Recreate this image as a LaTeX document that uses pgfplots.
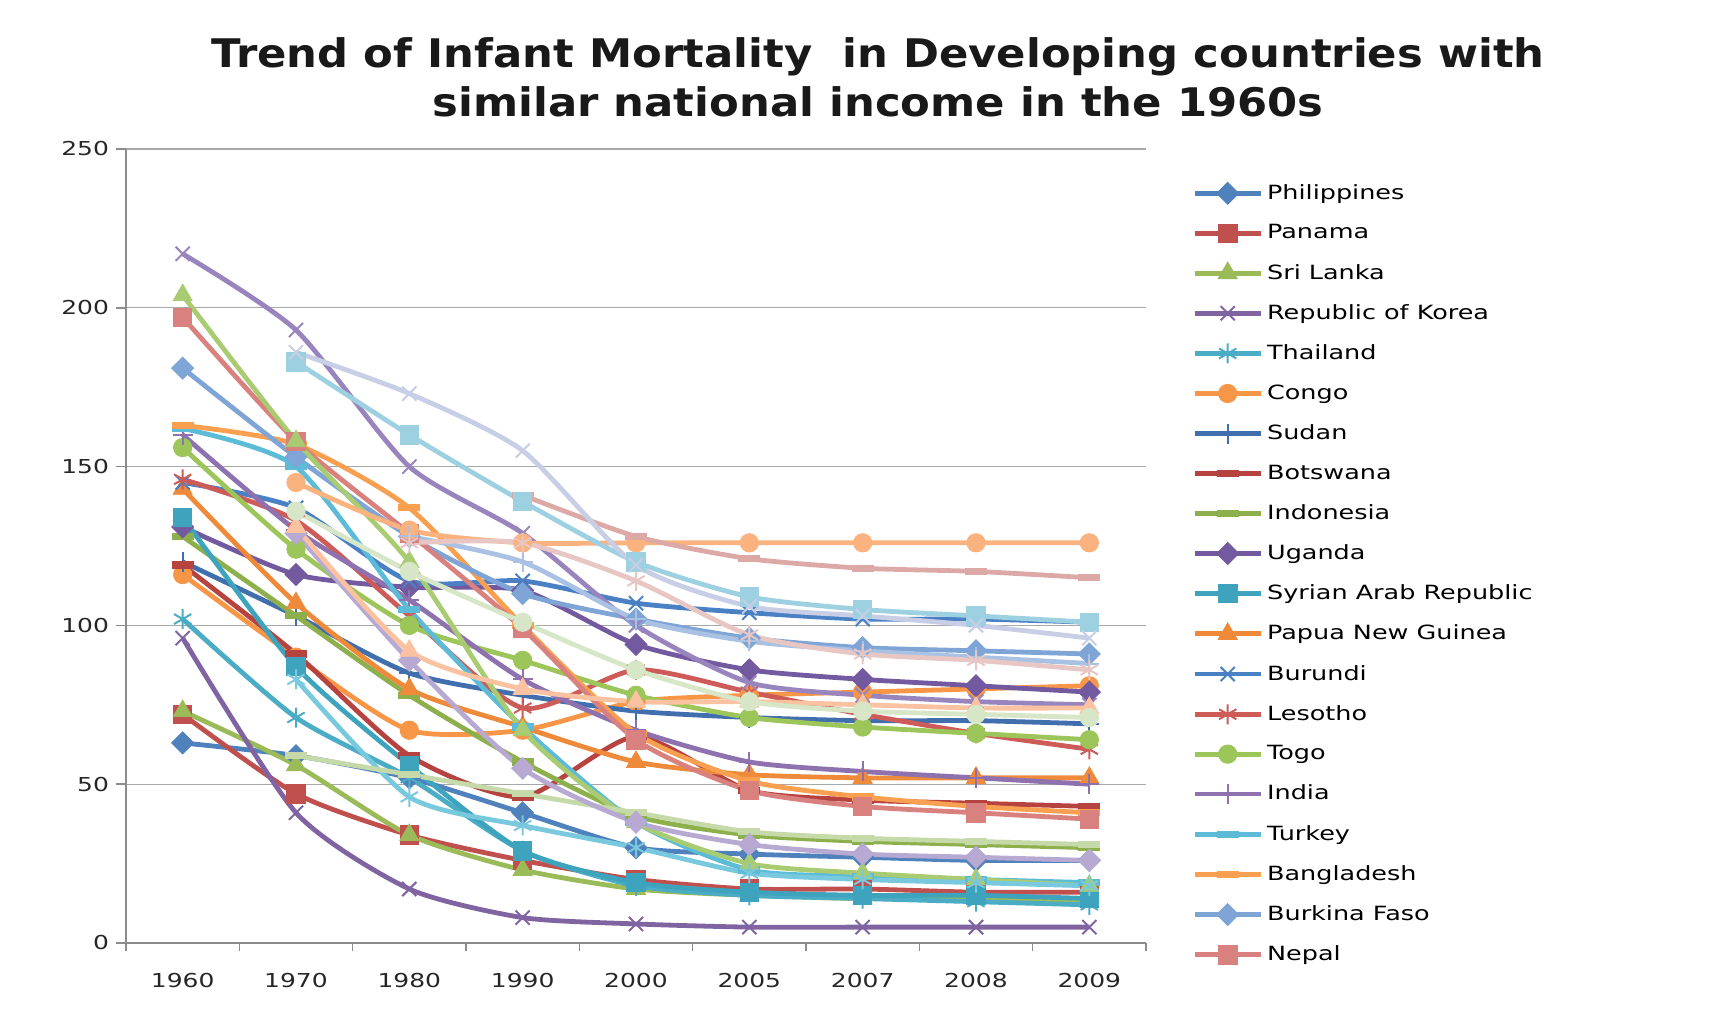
\documentclass[border=0pt]{standalone}
\usepackage{pgfplots}
\pgfplotsset{compat=1.18}
\usepackage{fontspec}
\setmainfont{DejaVu Sans}[FakeStretch=1.3]
\newfontfamily\titlefont{DejaVu Sans}[FakeStretch=1.1]
\definecolor{axisgray}{HTML}{8C8C8C}
\definecolor{gridgray}{HTML}{A8A8A8}
\definecolor{c1}{HTML}{4F81BD}\definecolor{c2}{HTML}{C0504D}\definecolor{c3}{HTML}{9BBB59}
\definecolor{c4}{HTML}{8064A2}\definecolor{c5}{HTML}{4BACC6}\definecolor{c6}{HTML}{F79646}
\definecolor{c7}{HTML}{416FAE}\definecolor{c8}{HTML}{B6433F}\definecolor{c9}{HTML}{8DB04D}
\definecolor{c10}{HTML}{7359A0}\definecolor{c11}{HTML}{3EA3BD}\definecolor{c12}{HTML}{EE8A3A}
\definecolor{c13}{HTML}{4A80C4}\definecolor{c14}{HTML}{CD5C58}\definecolor{c15}{HTML}{9CC55A}
\definecolor{c16}{HTML}{8E72B0}\definecolor{c17}{HTML}{5CBCD8}\definecolor{c18}{HTML}{F9A050}
\definecolor{c19}{HTML}{7EA5D6}\definecolor{c20}{HTML}{D8817F}\definecolor{c21}{HTML}{A9CC72}
\definecolor{c22}{HTML}{9985BE}\definecolor{c23}{HTML}{78C8DE}\definecolor{c24}{HTML}{FAB27E}
\definecolor{c25}{HTML}{A9C2E3}\definecolor{c26}{HTML}{DCA9A7}\definecolor{c27}{HTML}{C5DAA8}
\definecolor{c28}{HTML}{B7A9D2}\definecolor{c29}{HTML}{9DD1E2}\definecolor{c30}{HTML}{FBC2A1}
\definecolor{c31}{HTML}{C8CEE5}\definecolor{c32}{HTML}{E8C6C4}\definecolor{c33}{HTML}{D6E6C6}
\pgfplotsset{
 sD/.style={mark=square*, mark size=3.9pt, mark options={rotate=45, line width=0.4pt}},
 sS/.style={mark=square*, mark size=4.6pt, mark options={line width=0.4pt}},
 sT/.style={mark=triangle*, mark size=5.5pt, mark options={line width=0.4pt}},
 sX/.style={mark=x, mark size=5pt, mark options={line width=1pt}},
 sA/.style={mark=asterisk, mark size=5pt, mark options={line width=1pt}},
 sC/.style={mark=*, mark size=4.6pt, mark options={line width=0.4pt}},
 sP/.style={mark=+, mark size=5pt, mark options={line width=1pt}},
 sN/.style={mark=-, mark size=5.5pt, mark options={line width=3.6pt}},
}
\begin{document}
\begin{tikzpicture}
\useasboundingbox (-63pt,-32.5pt) rectangle (804.5pt,471.5pt);
\begin{axis}[
  scale only axis, width=510pt, height=397pt,
  xmin=-0.5, xmax=8.5, ymin=0, ymax=250,
  axis x line*=bottom, axis y line*=left,
  axis line style={draw=axisgray, line width=0.8pt, -},
  xtick={0,...,8},
  xticklabels={1960,1970,1980,1990,2000,2005,2007,2008,2009},
  minor xtick={-0.5,0.5,...,8.5},
  ytick={0,50,...,250},
  tick align=outside,
  major tick length=5pt, minor tick length=4pt,
  major x tick style={draw=none},
  minor x tick style={draw=axisgray, line width=0.8pt},
  major y tick style={draw=axisgray, line width=0.8pt},
  ymajorgrids, major grid style={draw=gridgray, line width=0.7pt},
  /pgf/number format/assume math mode=true,
  ticklabel style={font=\fontsize{9.6}{11}\selectfont, text=black!85},
  xticklabel style={yshift=-6.5pt},
  clip=false,
  every axis plot/.append style={line width=2.4pt, smooth, tension=0.4},
  legend style={at={(1.045,0.961)}, anchor=north west, draw=none, fill=none,
     font=\fontsize{9.8}{11}\selectfont, row sep=7.15pt, inner sep=0pt},
  legend cell align=left,
  legend image code/.code={\draw[mark repeat=2,mark phase=2] plot coordinates {(0cm,0cm)(0.58cm,0cm)(1.16cm,0cm)};},
]
\addplot[c1,sD] coordinates {(0,63)(1,59)(2,52)(3,41)(4,30)(5,28)(6,27)(7,26)(8,26)};
\addlegendentry{Philippines}
\addplot[c2,sS] coordinates {(0,72)(1,47)(2,34)(3,26)(4,20)(5,17)(6,17)(7,16)(8,16)};
\addlegendentry{Panama}
\addplot[c3,sT] coordinates {(0,73)(1,56)(2,34)(3,23)(4,17)(5,15)(6,14)(7,14)(8,13)};
\addlegendentry{Sri Lanka}
\addplot[c4,sX] coordinates {(0,96)(1,41)(2,17)(3,8)(4,6)(5,5)(6,5)(7,5)(8,5)};
\addlegendentry{Republic of Korea}
\addplot[c5,sA] coordinates {(0,102)(1,71)(2,52)(3,29)(4,18)(5,15)(6,14)(7,13)(8,12)};
\addlegendentry{Thailand}
\addplot[c6,sC] coordinates {(0,116)(1,90)(2,67)(3,67)(4,76)(5,78)(6,79)(7,80)(8,81)};
\addlegendentry{Congo}
\addplot[c7,sP] coordinates {(0,120)(1,103)(2,85)(3,78)(4,73)(5,71)(6,70)(7,70)(8,69)};
\addlegendentry{Sudan}
\addplot[c8,sN] coordinates {(0,119)(1,91)(2,59)(3,46)(4,65)(5,48)(6,45)(7,44)(8,43)};
\addlegendentry{Botswana}
\addplot[c9,sN] coordinates {(0,128)(1,103)(2,78)(3,57)(4,40)(5,34)(6,32)(7,31)(8,30)};
\addlegendentry{Indonesia}
\addplot[c10,sD] coordinates {(0,131)(1,116)(2,112)(3,111)(4,94)(5,86)(6,83)(7,81)(8,79)};
\addlegendentry{Uganda}
\addplot[c11,sS] coordinates {(0,134)(1,87)(2,56)(3,29)(4,19)(5,16)(6,15)(7,15)(8,14)};
\addlegendentry{Syrian Arab Republic}
\addplot[c12,sT] coordinates {(0,143)(1,107)(2,80)(3,68)(4,57)(5,53)(6,52)(7,52)(8,52)};
\addlegendentry{Papua New Guinea}
\addplot[c13,sX] coordinates {(0,145)(1,137)(2,114)(3,114)(4,107)(5,104)(6,102)(7,102)(8,101)};
\addlegendentry{Burundi}
\addplot[c14,sA] coordinates {(0,146)(1,133)(2,103)(3,74)(4,86)(5,79)(6,72)(7,66)(8,61)};
\addlegendentry{Lesotho}
\addplot[c15,sC] coordinates {(0,156)(1,124)(2,100)(3,89)(4,78)(5,71)(6,68)(7,66)(8,64)};
\addlegendentry{Togo}
\addplot[c16,sP] coordinates {(0,160)(1,130)(2,108)(3,83)(4,67)(5,57)(6,54)(7,52)(8,50)};
\addlegendentry{India}
\addplot[c17,sN] coordinates {(0,162)(1,150)(2,105)(3,68)(4,38)(5,23)(6,21)(7,20)(8,19)};
\addlegendentry{Turkey}
\addplot[c18,sN] coordinates {(0,163)(1,157)(2,137)(3,100)(4,66)(5,51)(6,46)(7,43)(8,41)};
\addlegendentry{Bangladesh}
\addplot[c19,sD] coordinates {(0,181)(1,153)(2,128)(3,110)(4,102)(5,96)(6,93)(7,92)(8,91)};
\addlegendentry{Burkina Faso}
\addplot[c20,sS] coordinates {(0,197)(1,158)(2,129)(3,99)(4,64)(5,48)(6,43)(7,41)(8,39)};
\addlegendentry{Nepal}
\addplot[c21,sT,forget plot] coordinates {(0,204)(1,158)(2,120)(3,67)(4,38)(5,25)(6,22)(7,20)(8,18)};
\addplot[c22,sX,forget plot] coordinates {(0,217)(1,193)(2,150)(3,129)(4,100)(5,82)(6,78)(7,76)(8,75)};
\addplot[c23,sA,forget plot] coordinates {(1,83)(2,46)(3,37)(4,30)(5,22)(6,20)(7,19)(8,18)};
\addplot[c24,sC,forget plot] coordinates {(1,145)(2,130)(3,126)(4,126)(5,126)(6,126)(7,126)(8,126)};
\addplot[c25,sP,forget plot] coordinates {(2,128)(3,120)(4,102)(5,95)(6,92)(7,90)(8,88)};
\addplot[c26,sN,forget plot] coordinates {(3,141)(4,128)(5,121)(6,118)(7,117)(8,115)};
\addplot[c27,sN,forget plot] coordinates {(1,59)(2,53)(3,47)(4,41)(5,35)(6,33)(7,32)(8,31)};
\addplot[c28,sD,forget plot] coordinates {(1,129)(2,89)(3,55)(4,38)(5,31)(6,28)(7,27)(8,26)};
\addplot[c29,sS,forget plot] coordinates {(1,183)(2,160)(3,139)(4,120)(5,109)(6,105)(7,103)(8,101)};
\addplot[c30,sT,forget plot] coordinates {(1,131)(2,92)(3,80)(4,76)(5,76)(6,75)(7,74)(8,74)};
\addplot[c31,sX,forget plot] coordinates {(1,186)(2,173)(3,155)(4,119)(5,106)(6,103)(7,100)(8,96)};
\addplot[c32,sA,forget plot] coordinates {(2,126)(3,126)(4,114)(5,97)(6,91)(7,89)(8,86)};
\addplot[c33,sC,forget plot] coordinates {(1,136)(2,117)(3,101)(4,86)(5,76)(6,73)(7,72)(8,71)};
\end{axis}
\node[font=\titlefont\bfseries\fontsize{19.7}{24.5}\selectfont, align=center, text=black!90] at (376pt,432.75pt)
 {Trend of Infant Mortality\ \ in Developing countries with\\similar national income in the 1960s};
\end{tikzpicture}
\end{document}
